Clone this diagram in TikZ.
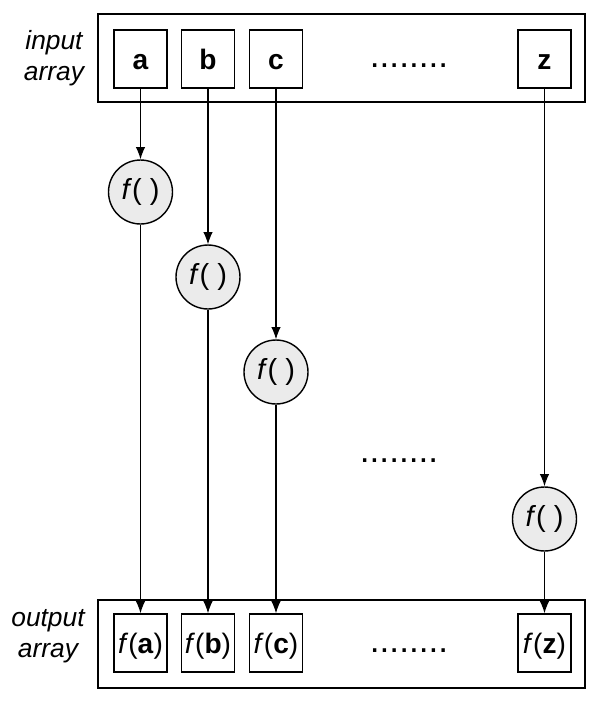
\documentclass[tikz,border=0pt]{standalone}
\usepackage{fontspec}
\setmainfont{Liberation Sans}
\usepackage{tikz}
\usetikzlibrary{arrows.meta}

\tikzset{
  cell/.style={draw, line width=0.8pt, rectangle, minimum width=1.06cm, minimum height=1.16cm, inner sep=0pt, text height=12.5pt, text depth=0pt, font=\fontsize{16}{18}\selectfont},
  arr/.style={draw, line width=0.9pt, rectangle, minimum width=9.74cm, minimum height=1.76cm, inner sep=0pt},
  func/.style={draw, line width=0.8pt, circle, fill=black!8, minimum size=1.28cm, inner sep=0pt, font=\fontsize{16.5}{18}\selectfont},
  lbl/.style={align=center, font=\fontsize{15}{17.5}\selectfont\itshape},
  dots/.style={anchor=base, inner sep=0pt, font=\fontsize{20}{22}\selectfont},
  flow/.style={-{Latex[length=7pt, width=5.5pt]}, line width=0.7pt},
}

\begin{document}
\begin{tikzpicture}[x=0.02cm, y=-0.02cm]
            \useasboundingbox (0,0) rectangle (600,701);
            
            % Input Array
            \node[arr] (inarr) at (341.5,58) {};
            \node[lbl] (inlbl) at (54,58) {input\\array};
            \node[cell] (ina) at (140.5,59) {\textbf{a}};
            \node[cell] (inb) at (208,59) {\textbf{b}};
            \node[cell] (inc) at (276,59) {\textbf{c}};
            \node[cell] (inz) at (544.5,59) {\textbf{z}};
            \node[dots] (indots) at (409,67) {........};
            
            % Function Calls
            \node[func] (fa) at (140.5,192) {\textit{f}( )};
            \node[func] (fb) at (208,277) {\textit{f}( )};
            \node[func] (fc) at (276,372) {\textit{f}( )};
            \node[func] (fz) at (544.5,519) {\textit{f}( )};
            \node[dots] (middots) at (399,462) {........};
            
            % Output Array
            \node[arr] (outarr) at (341.5,644) {};
            \node[lbl] (outlbl) at (48,636) {output\\array};
            \node[cell] (outa) at (140.5,643) {\textit{f}(\textbf{a})};
            \node[cell] (outb) at (208,643) {\textit{f}(\textbf{b})};
            \node[cell] (outc) at (276,643) {\textit{f}(\textbf{c})};
            \node[cell] (outz) at (544.5,643) {\textit{f}(\textbf{z})};
            \node[dots] (outdots) at (409,652) {........};
            
            % Arrows
            \draw[flow] (ina) -- (fa);
            \draw[flow] (inb) -- (fb);
            \draw[flow] (inc) -- (fc);
            \draw[flow] (inz) -- (fz);
            
            \draw[flow] (fa) -- (outa);
            \draw[flow] (fb) -- (outb);
            \draw[flow] (fc) -- (outc);
            \draw[flow] (fz) -- (outz);
        \end{tikzpicture}
\end{document}
